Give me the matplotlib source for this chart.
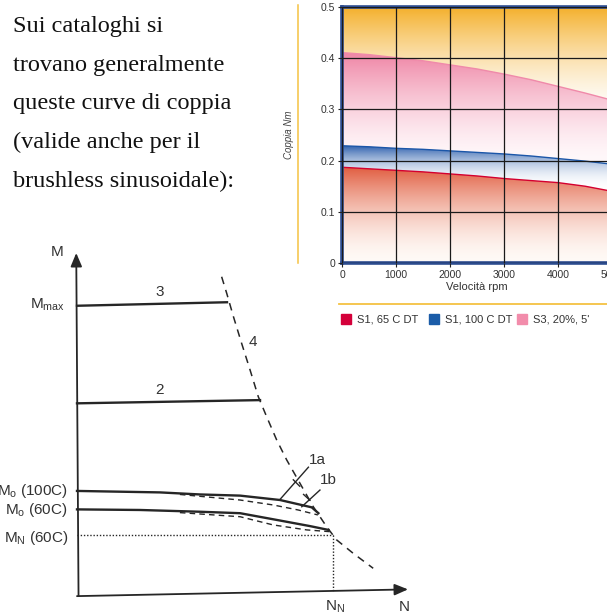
import numpy as np
import matplotlib
matplotlib.use("Agg")
import matplotlib.pyplot as plt
from matplotlib.colors import to_rgb
from matplotlib.patches import PathPatch, Rectangle
from matplotlib.lines import Line2D

plt.rcParams["mathtext.fontset"] = "custom"
plt.rcParams["mathtext.rm"] = "Liberation Sans"
plt.rcParams["mathtext.it"] = "Liberation Sans:italic"

# ── testo introduttivo ──────────────────────────────────────────
INTRO_LINES = [
    "Sui cataloghi si",
    "trovano generalmente",
    "queste curve di coppia",
    "(valide anche per il",
    "brushless sinusoidale):",
]

# ── grafico da catalogo (coppia vs velocità) ────────────────────
rpm = [0, 500, 1000, 1500, 2000, 2500, 3000, 3500, 4000, 4500, 5000]
s3_20 = [0.411, 0.407, 0.401, 0.395, 0.387, 0.379, 0.369, 0.358, 0.345, 0.332, 0.318]
s1_100 = [0.229, 0.227, 0.224, 0.222, 0.219, 0.216, 0.213, 0.209, 0.204, 0.199, 0.193]
s1_65 = [0.187, 0.184, 0.181, 0.178, 0.174, 0.170, 0.165, 0.161, 0.157, 0.150, 0.140]
x_ticks = [0, 1000, 2000, 3000, 4000, 5000]
y_ticks = [0, 0.1, 0.2, 0.3, 0.4, 0.5]
y_tick_labels = ["0", "0.1", "0.2", "0.3", "0.4", "0.5"]
legend_labels = ["S1, 65 C DT", "S1, 100 C DT", "S3, 20%, 5'"]
legend_colors = ["#d4003a", "#1b5ca8", "#f28cab"]

# ── schema qualitativo (M vs N) ─────────────────────────────────
curve4_N = [0.565, 0.585, 0.611, 0.643, 0.676, 0.708, 0.741, 0.780, 0.819,
            0.871, 0.923, 0.975, 1.014, 1.079, 1.157]
curve4_M = [1.093, 1.036, 0.957, 0.866, 0.775, 0.684, 0.615, 0.536, 0.468,
            0.388, 0.308, 0.240, 0.195, 0.149, 0.098]
line3_N, line3_M = [0.0, 0.586], [0.994, 1.006]
line2_N, line2_M = [0.0, 0.715], [0.661, 0.672]
c100_N = [0.0, 0.324, 0.480, 0.637, 0.793, 0.917, 0.943]
c100_M = [0.362, 0.357, 0.350, 0.346, 0.331, 0.306, 0.286]
c100d_N = [0.402, 0.637, 0.767, 0.864, 0.941]
c100d_M = [0.350, 0.331, 0.314, 0.297, 0.280]
c60_N = [0.0, 0.246, 0.480, 0.637, 0.793, 0.910, 0.982]
c60_M = [0.299, 0.297, 0.291, 0.286, 0.261, 0.242, 0.229]
c60d_N = [0.402, 0.637, 0.766, 0.897, 0.988]
c60d_M = [0.288, 0.274, 0.246, 0.229, 0.223]
M_N, N_N = 0.212, 1.0
lead1a_N, lead1a_M = [0.793, 0.904], [0.333, 0.443]
lead1b_N, lead1b_M = [0.878, 0.949], [0.308, 0.365]
tick1a_N, tick1a_M = [0.845, 0.870], [0.400, 0.378]
tick1b_N, tick1b_M = [0.885, 0.910], [0.350, 0.330]

W, H = 607, 616
fig = plt.figure(figsize=(W / 100, H / 100), dpi=100)


def px_axes(x0, y0, x1, y1):
    return fig.add_axes([x0 / W, 1 - y1 / H, (x1 - x0) / W, (y1 - y0) / H])


def fig_line(xs, ys, **kw):
    fig.add_artist(Line2D([x / W for x in xs], [1 - y / H for y in ys],
                          transform=fig.transFigure, **kw))


def gradient_fill(ax, x, lower, upper, c_top, c_bot, v_top, v_bot, gamma=1.0):
    poly = ax.fill_between(x, lower, upper, color="none", lw=0)
    patch = PathPatch(poly.get_paths()[0], transform=ax.transData,
                      facecolor="none", edgecolor="none")
    ax.add_patch(patch)
    t = np.linspace(0, 1, 256)[:, None] ** gamma
    top, bot = np.array(to_rgb(c_top)), np.array(to_rgb(c_bot))
    img = bot + (top - bot) * t[:, :, None] * np.ones((1, 2, 1))
    im = ax.imshow(img, extent=[x[0], x[-1], v_bot, v_top], origin="lower",
                   aspect="auto", interpolation="bilinear", zorder=0)
    im.set_clip_path(patch)


# testo
for i, line in enumerate(INTRO_LINES):
    fig.text(13 / W, 1 - (32 + 38.7 * i) / H, line, family="Liberation Serif",
             fontsize=17.5, va="baseline", color="#111")

# grafico catalogo
narrow = ["Liberation Sans Narrow", "Liberation Sans", "DejaVu Sans"]
ax = px_axes(342, 7, 612, 263)
top_line = [0.5] * len(rpm)
zero_line = [0.0] * len(rpm)
gradient_fill(ax, rpm, s3_20, top_line, "#f4b02c", "#ffffff", 0.5, 0.28, gamma=1.6)
gradient_fill(ax, rpm, s1_100, s3_20, "#ef86a6", "#fff8fa", 0.41, 0.20, gamma=1.5)
gradient_fill(ax, rpm, s1_65, s1_100, "#1f55a8", "#ffffff", 0.23, 0.14, gamma=2.2)
gradient_fill(ax, rpm, zero_line, s1_65, "#e0583a", "#fffaf6", 0.19, 0.0, gamma=1.7)
ax.plot(rpm, s3_20, color="#f08aaa", lw=1.0, zorder=2)
ax.plot(rpm, s1_100, color="#1b56a8", lw=1.0, zorder=2)
ax.plot(rpm, s1_65, color="#d4002f", lw=1.0, zorder=2)
ax.set_xlim(0, 5000)
ax.set_ylim(0, 0.5)
ax.set_xticks(x_ticks)
ax.set_yticks(y_ticks)
ax.set_yticklabels(y_tick_labels)
ax.grid(True, color="#1a1a1a", lw=0.9)
ax.set_axisbelow(False)
for side in ["left", "top", "bottom"]:
    ax.spines[side].set_color("#2b4b8e")
    ax.spines[side].set_linewidth(2.6)
ax.spines["right"].set_visible(False)
ax.tick_params(direction="out", length=3, width=0.8, color="#222",
               labelsize=7.5, labelcolor="#333", pad=2)
for lab in ax.get_xticklabels() + ax.get_yticklabels():
    lab.set_family(narrow)
ax.set_xlabel("Velocità rpm", fontsize=8, color="#333", family=narrow)
ax.xaxis.set_label_coords(0.5, -0.075)
ax.set_ylabel("Coppia Nm", fontsize=7, color="#444", style="italic", family=narrow)
ax.yaxis.set_label_coords(-0.178, 0.5)

fig_line([298, 298], [5, 263], color="#f5c242", lw=1.1)
fig_line([339, 607], [304, 304], color="#f5c242", lw=1.3)
for x0, lab, col in zip([341, 429, 517], legend_labels, legend_colors):
    fig.add_artist(Rectangle((x0 / W, 1 - 324 / H), 10 / W, 10 / H, color=col,
                             transform=fig.transFigure))
    fig.text((x0 + 16) / W, 1 - 319.5 / H, lab, fontsize=8, color="#333",
             va="center", family=narrow)

# schema M-N
ax2 = px_axes(77, 245.4, 435.4, 597)
ax2.set_xlim(0, 1.4)
ax2.set_ylim(0, 1.2)
ax2.axis("off")
ink = "#262626"
thick = 1.7
arrow = dict(arrowstyle="-|>,head_length=0.9,head_width=0.38", color=ink, lw=1.3,
             shrinkA=0, shrinkB=0, mutation_scale=9)
ax2.annotate("", xy=(-0.003, 1.174), xytext=(0.006, 0.003), arrowprops=arrow,
             annotation_clip=False)
ax2.annotate("", xy=(1.293, 0.026), xytext=(0.0, 0.003), arrowprops=arrow,
             annotation_clip=False)

ax2.plot(curve4_N, curve4_M, color=ink, lw=1.1, ls=(0, (5, 4)), clip_on=False)
ax2.plot(line3_N, line3_M, color=ink, lw=thick, clip_on=False)
ax2.plot(line2_N, line2_M, color=ink, lw=thick, clip_on=False)
ax2.plot(c100_N, c100_M, color=ink, lw=thick, clip_on=False)
ax2.plot(c60_N, c60_M, color=ink, lw=thick, clip_on=False)
ax2.plot(c100d_N, c100d_M, color=ink, lw=1.0, ls=(0, (4, 3)), clip_on=False)
ax2.plot(c60d_N, c60d_M, color=ink, lw=1.0, ls=(0, (4, 3)), clip_on=False)
ax2.plot([0, N_N], [M_N, M_N], color=ink, lw=1.0, ls=(0, (1, 1.3)), clip_on=False)
ax2.plot([N_N, N_N], [M_N, 0.02], color=ink, lw=1.0, ls=(0, (1, 1.3)), clip_on=False)
for xs, ys in [(lead1a_N, lead1a_M), (lead1b_N, lead1b_M),
               (tick1a_N, tick1a_M), (tick1b_N, tick1b_M)]:
    ax2.plot(xs, ys, color=ink, lw=1.0, clip_on=False)

txt = dict(fontsize=11, color="#333", family="Liberation Sans")
ax2.text(-0.078, 1.177, "M", ha="center", va="center", **txt)
ax2.text(-0.047, 0.997, r"M$_{\mathrm{max}}$", ha="right", va="center", **txt)
ax2.text(0.324, 1.040, "3", ha="center", va="center", **txt)
ax2.text(0.324, 0.708, "2", ha="center", va="center", **txt)
ax2.text(0.688, 0.870, "4", ha="center", va="center", **txt)
ax2.text(0.940, 0.468, "1a", ha="center", va="center", **txt)
ax2.text(0.982, 0.398, "1b", ha="center", va="center", **txt)
ax2.text(-0.035, 0.362, r"M$_{\mathrm{o}}$ (100C)", ha="right", va="center", **txt)
ax2.text(-0.035, 0.297, r"M$_{\mathrm{o}}$ (60C)", ha="right", va="center", **txt)
ax2.text(-0.035, 0.201, r"M$_{\mathrm{N}}$ (60C)", ha="right", va="center", **txt)
ax2.text(1.008, -0.033, r"N$_{\mathrm{N}}$", ha="center", va="center", **txt)
ax2.text(1.277, -0.033, "N", ha="center", va="center", **txt)

fig.savefig("out.png", dpi=100)
